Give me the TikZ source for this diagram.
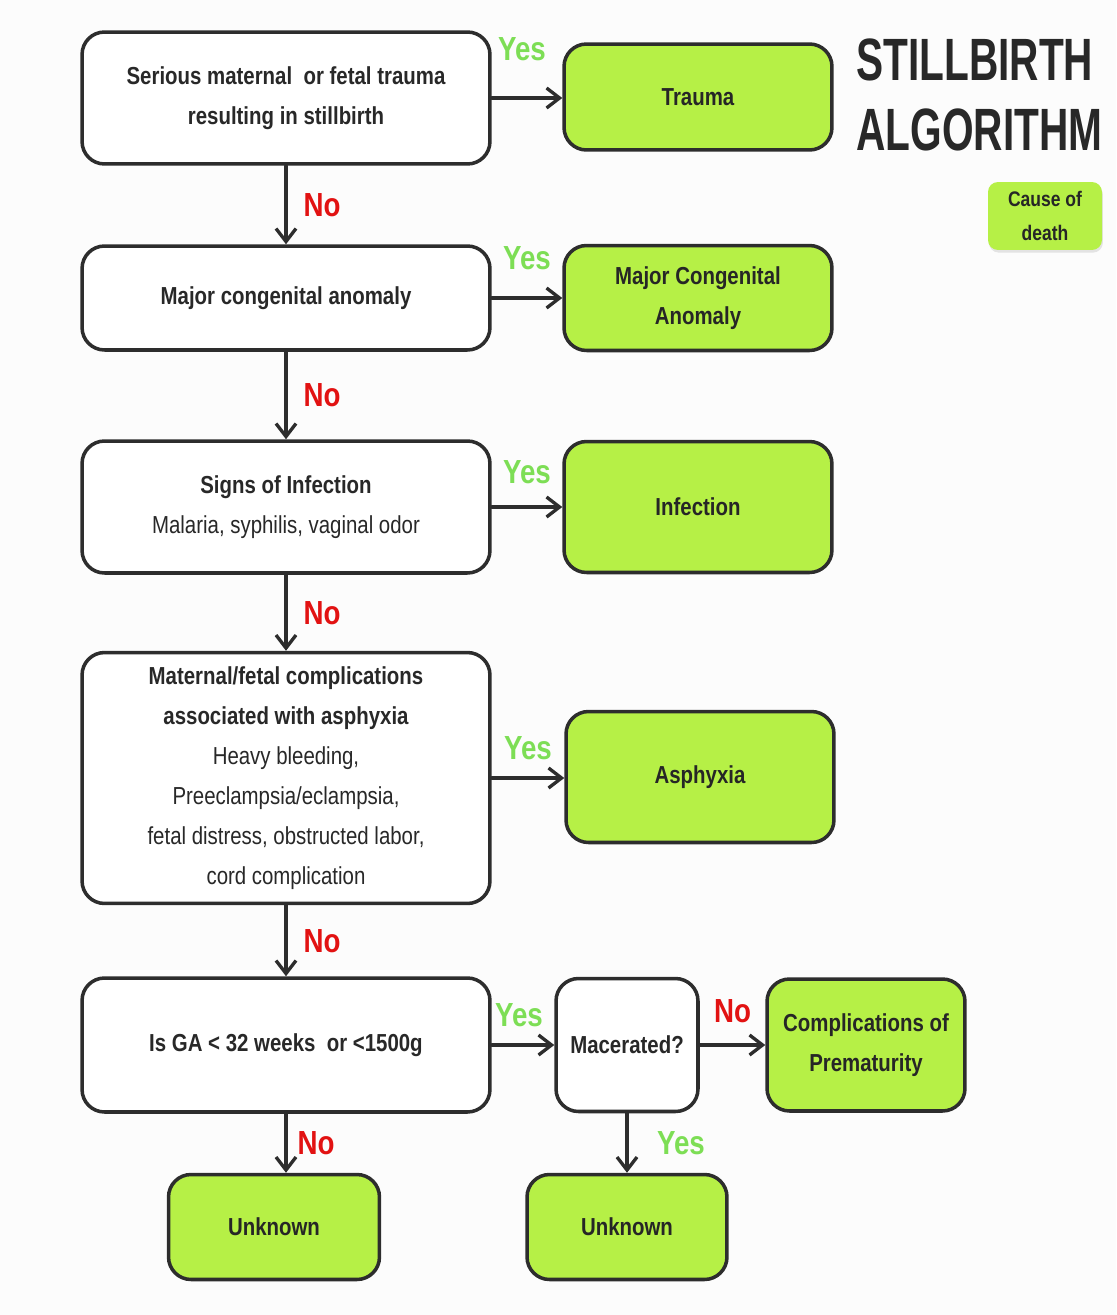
\documentclass[tikz,border=0pt]{standalone}
\usepackage{fontspec}
\setmainfont{Liberation Sans}[FakeStretch=0.83]
\newfontfamily\titlefont{Liberation Sans}[FakeStretch=0.68]
\usetikzlibrary{arrows.meta,shadows}

\definecolor{causegreen}{RGB}{182,240,70}
\definecolor{yesgreen}{RGB}{125,222,85}
\definecolor{nored}{RGB}{226,18,18}
\definecolor{edgegray}{RGB}{45,45,45}
\definecolor{inkgray}{RGB}{40,40,40}

\begin{document}
\begin{tikzpicture}[x=0.02cm,y=-0.02cm,
    >={Straight Barb[length=2.6mm,width=4mm]},
    line cap=round,line join=round,
    qbox/.style={draw=edgegray,line width=2pt,fill=white,
      rounded corners=0.45cm,align=center,inner sep=0pt,text=inkgray,
      font=\bfseries\fontsize{14}{22.7}\selectfont},
    cbox/.style={qbox,fill=causegreen,text=black!85},
    arr/.style={->,draw=edgegray,line width=1.9pt},
    yeslbl/.style={text=yesgreen,font=\bfseries\fontsize{19}{19}\selectfont},
    nolbl/.style={text=nored,font=\bfseries\fontsize{19}{19}\selectfont}]
    \useasboundingbox (0,0) rectangle (1116,1315);
    \fill[gray!2] (0,0) rectangle (1116,1315);

    % Title and legend.
    \node[anchor=west,align=left,text=inkgray,inner sep=0pt,
      font=\titlefont\bfseries\fontsize{34}{39.7}\selectfont]
      (title) at (856,95) {STILLBIRTH\\ALGORITHM};
    \node[cbox,draw=none,rounded corners=0.2cm,minimum width=2.28cm,
      minimum height=1.36cm,font=\bfseries\fontsize{12}{19.8}\selectfont,
      drop shadow={opacity=0.2,shadow xshift=0.5pt,shadow yshift=-1.5pt}]
      (legend) at (1045,216) {Cause of\\death};

    % Questions down the left column.
    \node[qbox,minimum width=8.16cm,minimum height=2.64cm] (q1) at (286,98)
      {Serious maternal\ \ or fetal trauma\\resulting in stillbirth};
    \node[qbox,minimum width=8.16cm,minimum height=2.08cm] (q2) at (286,298)
      {Major congenital anomaly};
    \node[qbox,minimum width=8.16cm,minimum height=2.64cm] (q3) at (286,507)
      {Signs of Infection\\{\mdseries Malaria, syphilis, vaginal odor}};
    \node[qbox,minimum width=8.16cm,minimum height=5.02cm] (q4) at (286,778)
      {Maternal/fetal complications\\associated with asphyxia\\
       {\mdseries Heavy bleeding,}\\{\mdseries Preeclampsia/eclampsia,}\\
       {\mdseries fetal distress, obstructed labor,}\\
       {\mdseries cord complication}};
    \node[qbox,minimum width=8.16cm,minimum height=2.68cm] (q5) at (286,1045)
      {Is GA \textless\ 32 weeks\ \ or \textless1500g};
    \node[qbox,minimum width=2.84cm,minimum height=2.66cm] (mac) at (627,1045)
      {Macerated?};

    % Causes of death.
    \node[cbox,minimum width=5.36cm,minimum height=2.12cm] (trauma) at (698,97)
      {Trauma};
    \node[cbox,minimum width=5.36cm,minimum height=2.10cm] (mca) at (698,298)
      {Major Congenital\\Anomaly};
    \node[cbox,minimum width=5.36cm,minimum height=2.62cm] (inf) at (698,507)
      {Infection};
    \node[cbox,minimum width=5.36cm,minimum height=2.62cm] (asph) at (700,777)
      {Asphyxia};
    \node[cbox,minimum width=3.96cm,minimum height=2.64cm] (prem) at (866,1045)
      {Complications of\\Prematurity};
    \node[cbox,minimum width=4.22cm,minimum height=2.10cm] (unk1) at (274,1227)
      {Unknown};
    \node[cbox,minimum width=4.00cm,minimum height=2.10cm] (unk2) at (627,1227)
      {Unknown};

    % Yes branches.
    \draw[arr] (q1.east) -- (trauma.west |- q1.east)
      node[yeslbl,midway,xshift=-0.1cm,yshift=0.98cm] {Yes};
    \draw[arr] (q2.east) -- (mca.west |- q2.east)
      node[yeslbl,midway,yshift=0.8cm] {Yes};
    \draw[arr] (q3.east) -- (inf.west |- q3.east)
      node[yeslbl,midway,yshift=0.7cm] {Yes};
    \draw[arr] (q4.east) -- (asph.west |- q4.east)
      node[yeslbl,midway,yshift=0.6cm] {Yes};
    \draw[arr] (q5.east) -- (mac.west |- q5.east)
      node[yeslbl,midway,xshift=-0.08cm,yshift=0.6cm] {Yes};
    \draw[arr] (mac.south) -- (unk2.north)
      node[yeslbl,midway,xshift=1.08cm] {Yes};

    % No branches.
    \draw[arr] (q1.south) -- (q2.north) node[nolbl,midway,xshift=0.72cm] {No};
    \draw[arr] (q2.south) -- (q3.north) node[nolbl,midway,xshift=0.72cm] {No};
    \draw[arr] (q3.south) -- (q4.north) node[nolbl,midway,xshift=0.72cm] {No};
    \draw[arr] (q4.south) -- (q5.north) node[nolbl,midway,xshift=0.72cm] {No};
    \draw[arr] (q5.south) -- (q5.south |- unk1.north)
      node[nolbl,midway,xshift=0.6cm] {No};
    \draw[arr] (mac.east) -- (prem.west |- mac.east)
      node[nolbl,midway,yshift=0.68cm] {No};
\end{tikzpicture}
\end{document}
